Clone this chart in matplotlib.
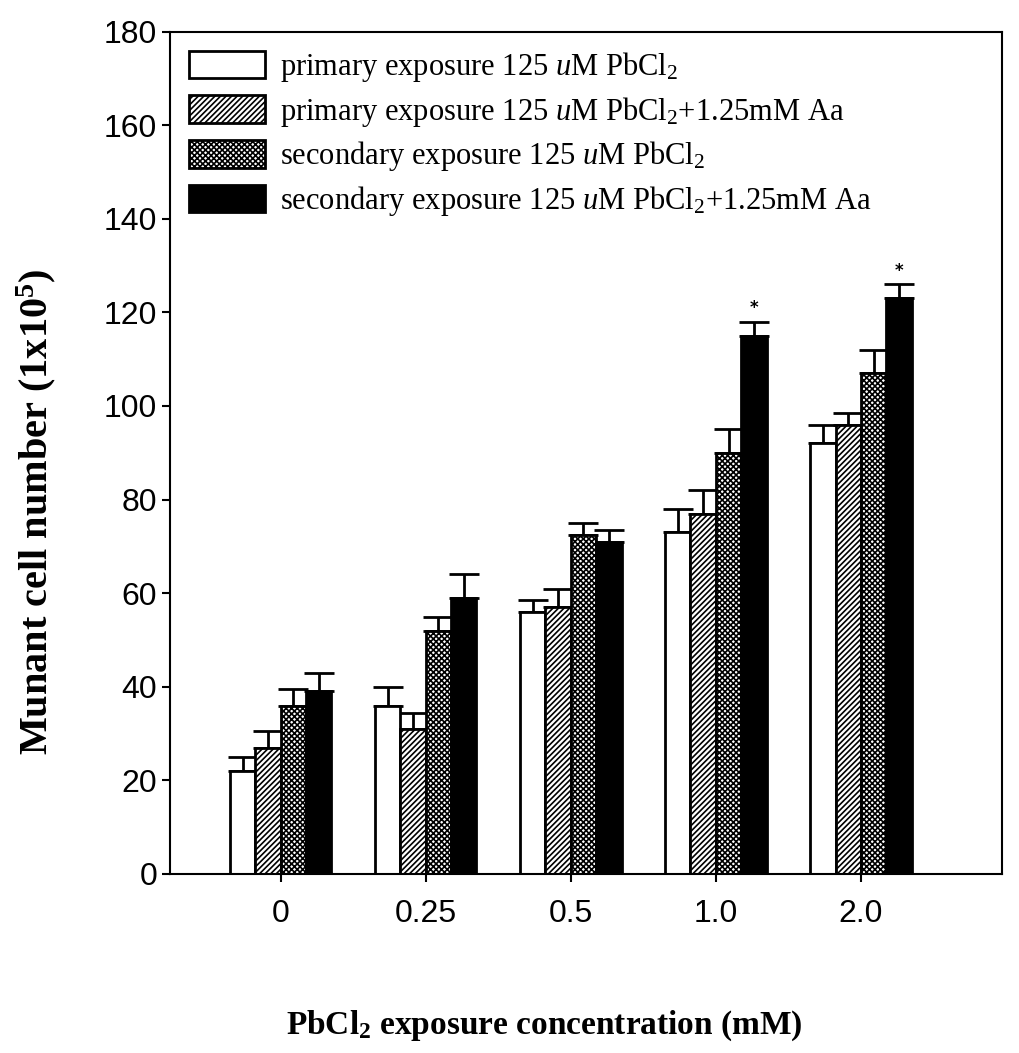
import numpy as np
import matplotlib
matplotlib.use("Agg")
from matplotlib import pyplot as plt

plt.rcParams["mathtext.fontset"] = "custom"
plt.rcParams["mathtext.rm"] = "Liberation Serif"
plt.rcParams["mathtext.it"] = "Liberation Serif:italic"
plt.rcParams["mathtext.bf"] = "Liberation Serif:bold"
plt.rcParams["hatch.linewidth"] = 1.2

categories = ["0", "0.25", "0.5", "1.0", "2.0"]
series_labels = [
    r"primary exposure 125 $\it{u}$M PbCl$_2$",
    r"primary exposure 125 $\it{u}$M PbCl$_2$+1.25mM Aa",
    r"secondary exposure 125 $\it{u}$M PbCl$_2$",
    r"secondary exposure 125 $\it{u}$M PbCl$_2$+1.25mM Aa",
]
primary = [22, 36, 56, 73, 92]
primary_aa = [27, 31, 57, 77, 96]
secondary = [36, 52, 72.5, 90, 107]
secondary_aa = [39, 59, 71, 115, 123]
primary_err = [3, 4, 2.5, 5, 4]
primary_aa_err = [3.5, 3.5, 4, 5, 2.5]
secondary_err = [3.5, 3, 2.5, 5, 5]
secondary_aa_err = [4, 5, 2.5, 3, 3]
significant = [False, False, False, True, True]

values = [primary, primary_aa, secondary, secondary_aa]
errors = [primary_err, primary_aa_err, secondary_err, secondary_aa_err]
faces = ["white", "white", "white", "black"]
hatches = [None, "//////", "xxxxxx", None]

fig = plt.figure(figsize=(10.2, 10.53), dpi=100)
ax = fig.add_axes([0.167, 0.17, 0.815, 0.80])

x = np.arange(len(categories))
w = 0.175
for i, (vals, errs) in enumerate(zip(values, errors)):
    pos = x + (i - 1.5) * w
    ax.bar(pos, vals, w, color=faces[i], edgecolor="black", hatch=hatches[i],
           linewidth=2, label=series_labels[i], zorder=2)
    ax.errorbar(pos, vals, yerr=[np.zeros(len(vals)), errs], fmt="none",
                ecolor="black", elinewidth=2, capsize=11, capthick=2, zorder=1)

for xi, top, e, sig in zip(x, secondary_aa, secondary_aa_err, significant):
    if sig:
        ax.text(xi + 1.5 * w, top + e + 1, "*", ha="center", va="bottom",
                fontsize=12, fontweight="bold")

ax.set_xlim(-0.76, 4.97)
ax.set_ylim(0, 180)
ax.set_yticks(np.arange(0, 181, 20))
ax.set_xticks(x)
ax.set_xticklabels(categories)
ax.tick_params(axis="both", labelsize=23, width=1.5, length=6, direction="out")
ax.tick_params(axis="x", pad=12)
for lbl in ax.get_xticklabels() + ax.get_yticklabels():
    lbl.set_family("Liberation Sans")
for s in ax.spines.values():
    s.set_linewidth(1.5)

ax.set_ylabel(r"Munant cell number (1x10$^\mathbf{5}$)", family="Liberation Serif",
              fontsize=29, fontweight="bold")
ax.yaxis.set_label_coords(-0.135, 0.43)
ax.set_xlabel(r"PbCl$_\mathbf{2}$ exposure concentration (mM)", family="Liberation Serif",
              fontsize=24, fontweight="bold")
ax.xaxis.set_label_coords(0.45, -0.16)

leg = ax.legend(loc="upper left", frameon=False, prop={"family": "Liberation Serif", "size": 22},
                handlelength=2.5, handleheight=1.0, handletextpad=0.5, labelspacing=0.35,
                borderaxespad=0.2)

fig.savefig("out.png", dpi=100)
